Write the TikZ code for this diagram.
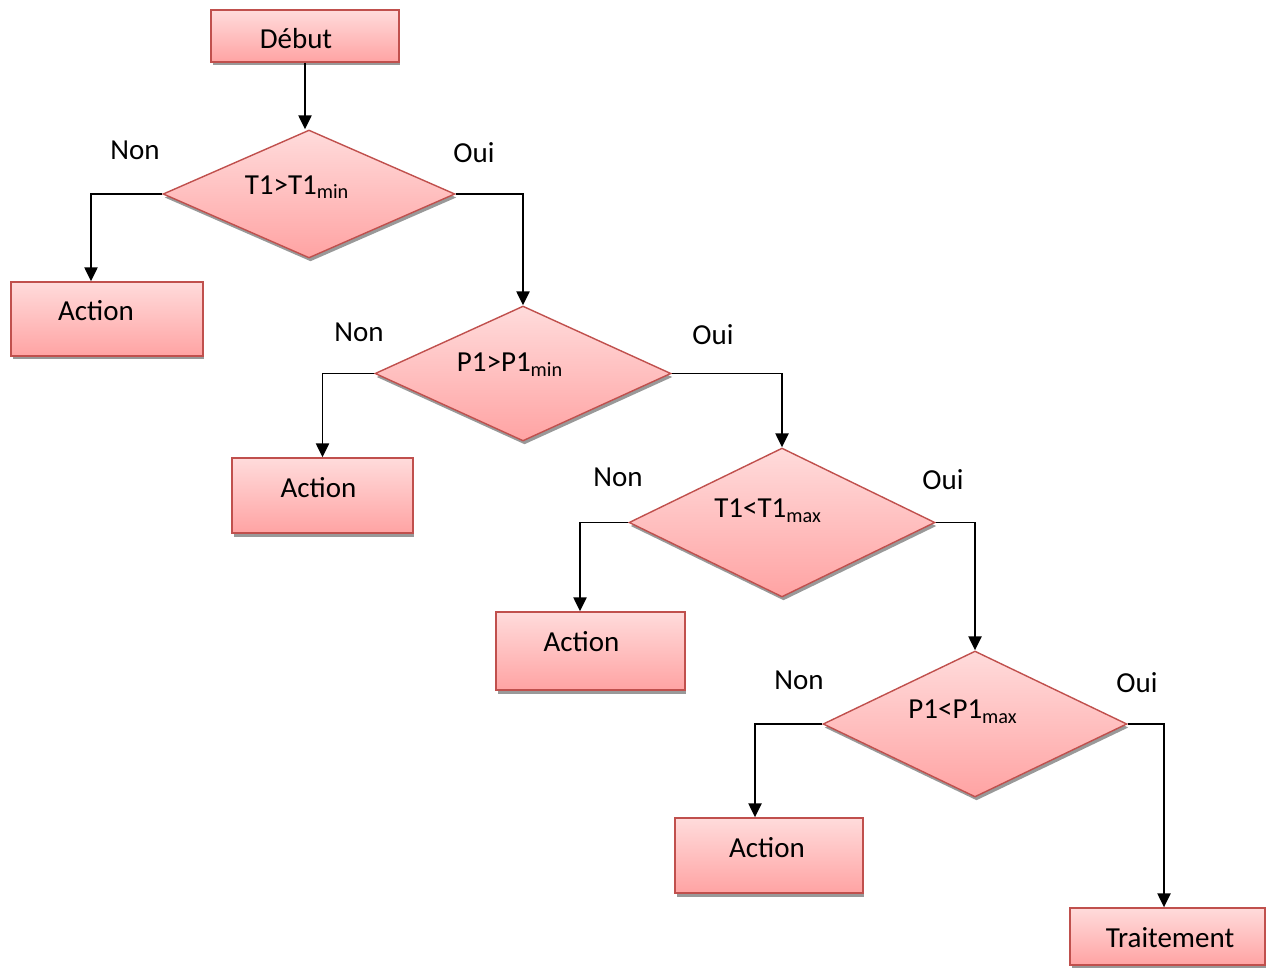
\documentclass[tikz,border=0pt]{standalone}
\usepackage{fontspec}
\setmainfont{Carlito}
\usetikzlibrary{positioning,shadows,arrows.meta,shapes.geometric}
\definecolor{boxred}{RGB}{192,80,77}
\tikzset {
    style A/.style={
        top color=red!14,
        bottom color=red!36,
        draw=boxred,
        thick,
        rectangle, % Set the shape as a rectangle
        drop shadow={shadow xshift=0.03cm, shadow yshift=-0.07cm, fill=black!40, opacity=1},
        align=center,
    },
    style B/.style={
        top color=red!14,
        bottom color=red!36,
        draw=boxred,
        thick,
        diamond, % Set the shape as a diamond
        inner sep=0pt,
        drop shadow={shadow xshift=0.03cm, shadow yshift=-0.07cm, fill=black!40, opacity=1},
        align=center,
    },
    style C/.style={
        draw=black,
        line width=1.1pt,
        -{Triangle[length=8pt,width=7.5pt]},
    },
    % text sitting a bit off the middle of its box
    txt/.style n args={3}{label={[xshift=#1cm, yshift=#2cm]center:#3}},
}

\begin{document}
\begin{tikzpicture}
[x=0.02cm, y=-0.02cm, font=\fontsize{16.5}{20}\selectfont]
\useasboundingbox (0,0) rectangle (1274,967);

\node[style A, minimum width=3.76cm, minimum height=1.04cm, txt={-0.18}{-0.06}{Début}] at (305,36) (debut) {};
\node[style B, minimum width=5.84cm, minimum height=2.56cm, txt={-0.24}{0.14}{T1>T1\textsubscript{min}}] at (309,194) (test1) {};
\node[style A, minimum width=3.84cm, minimum height=1.48cm, txt={-0.22}{0.16}{Action}] at (107,319) (action1) {};
\node[style B, minimum width=5.92cm, minimum height=2.7cm, txt={-0.26}{0.18}{P1>P1\textsubscript{min}}] at (523,373.5) (test2) {};
\node[style A, minimum width=3.62cm, minimum height=1.5cm, txt={-0.08}{0.16}{Action}] at (322.5,495.5) (action2) {};
\node[style B, minimum width=6.12cm, minimum height=2.98cm, txt={-0.28}{0.24}{T1<T1\textsubscript{max}}] at (782,522.5) (test3) {};
\node[style A, minimum width=3.78cm, minimum height=1.56cm, txt={-0.18}{0.18}{Action}] at (590.5,651) (action3) {};
\node[style B, minimum width=6.08cm, minimum height=2.92cm, txt={-0.24}{0.24}{P1<P1\textsubscript{max}}] at (975,724) (test4) {};
\node[style A, minimum width=3.76cm, minimum height=1.5cm, txt={-0.04}{0.16}{Action}] at (769,855.5) (action4) {};
\node[style A, minimum width=3.9cm, minimum height=1.14cm, txt={0.05}{-0.03}{Traitement}] at (1167.5,936.5) (traitement) {};

\node[draw=none] at (135,150) (non1) {Non};
\node[draw=none] at (474,153) (oui1) {Oui};
\node[draw=none] at (359,332) (non2) {Non};
\node[draw=none] at (713,335) (oui2) {Oui};
\node[draw=none] at (618,477) (non3) {Non};
\node[draw=none] at (943,480) (oui3) {Oui};
\node[draw=none] at (799,680) (non4) {Non};
\node[draw=none] at (1137,683) (oui4) {Oui};

\draw[style C] (debut) -- (debut |- test1.north);
\draw[style C] (test1.west) -| ([xshift=-0.32cm]action1.north);
\draw[style C] (test1.east) -| (test2.north);
\draw[style C] (test2.west) -| (action2.north);
\draw[style C] (test2.east) -| (test3.north);
\draw[style C] (test3.west) -| ([xshift=-0.21cm]action3.north);
\draw[style C] (test3.east) -| (test4.north);
\draw[style C] (test4.west) -| ([xshift=-0.28cm]action4.north);
\draw[style C] (test4.east) -| ([xshift=-0.07cm]traitement.north);
\end{tikzpicture}
\end{document}
